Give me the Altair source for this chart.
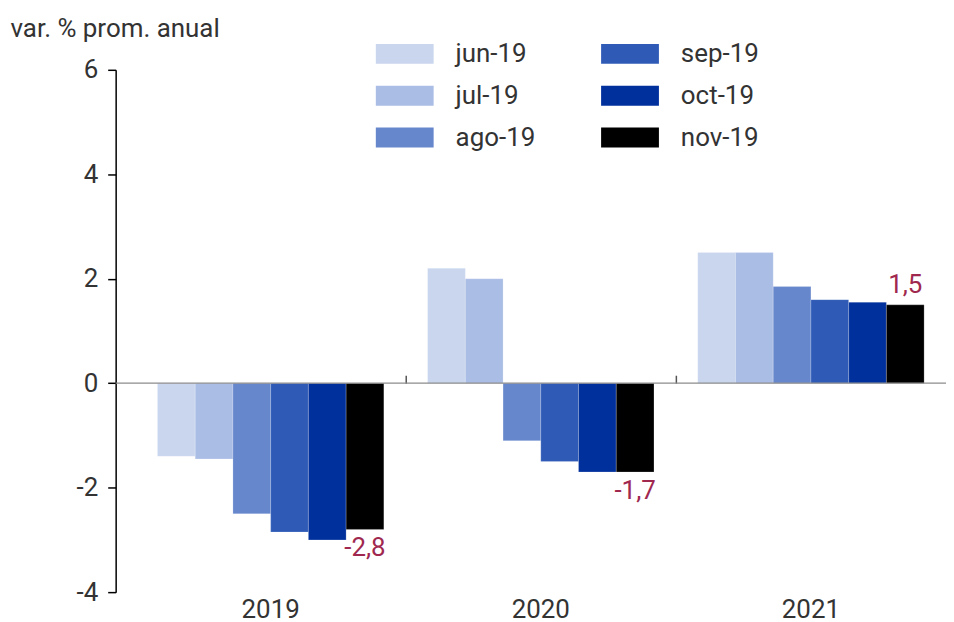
import altair as alt
import pandas as pd

years = ["2019", "2020", "2021"]
series = ["jun-19", "jul-19", "ago-19", "sep-19", "oct-19", "nov-19"]
colors = ["#c9d6ee", "#aabde5", "#6687cc", "#2f5bb7", "#00309c", "#000000"]
values = {
    "jun-19": [-1.4, 2.2, 2.5],
    "jul-19": [-1.45, 2.0, 2.5],
    "ago-19": [-2.5, -1.1, 1.85],
    "sep-19": [-2.85, -1.5, 1.6],
    "oct-19": [-3.0, -1.7, 1.55],
    "nov-19": [-2.8, -1.7, 1.5],
}
labels = {"nov-19": ["-2,8", "-1,7", "1,5"]}

rows = []
for s in series:
    for i, y in enumerate(years):
        lab = labels.get(s, ["", "", ""])[i]
        rows.append({"year": y, "serie": s, "value": values[s][i], "label": lab})
df = pd.DataFrame(rows)

FONT = "Roboto"
FS = 26
TXT = "#333333"
W, H = 813, 524

xscale = alt.Scale(domain=years, paddingInner=0, paddingOuter=0)
oscale = alt.Scale(domain=series, paddingInner=0, paddingOuter=0.58)
yscale = alt.Scale(domain=[-4, 6], nice=False)

base = alt.Chart(df)

bars = base.mark_bar(stroke="#ffffff", strokeWidth=0.4, strokeOpacity=0.5).encode(
    x=alt.X("year:N", scale=xscale, sort=years,
            axis=alt.Axis(title=None, domain=False, ticks=False, labelFont=FONT,
                          labelFontSize=FS, labelColor=TXT, labelPadding=4, labelAngle=0)),
    xOffset=alt.XOffset("serie:N", sort=series, scale=oscale),
    y=alt.Y("value:Q", scale=yscale,
            axis=alt.Axis(title="var. % prom. anual", values=[-4, -2, 0, 2, 4, 6],
                          grid=False, domainColor="#000000", domainWidth=1.5,
                          tickColor="#000000", tickWidth=1.5, tickSize=8, offset=20,
                          labelFont=FONT, labelFontSize=FS, labelColor=TXT, labelPadding=10,
                          labelExpr="replace(datum.label, '−', '-')",
                          titleFont=FONT, titleFontSize=FS, titleColor=TXT, titleFontWeight="normal",
                          titleAngle=0, titleAlign="left", titleBaseline="alphabetic",
                          titleX=-106, titleY=-33)),
    color=alt.Color("serie:N", sort=series,
                    scale=alt.Scale(domain=series, range=colors),
                    legend=alt.Legend(title=None, orient="none", legendX=241, legendY=-45,
                                      columns=2, direction="vertical", columnPadding=66,
                                      rowPadding=-16, padding=0,
                                      symbolType="M-1,-0.345L1,-0.345L1,0.345L-1,0.345Z",
                                      symbolSize=3364, symbolStrokeWidth=0, symbolOpacity=1,
                                      labelFont=FONT, labelFontSize=FS, labelColor=TXT,
                                      labelOffset=22, labelLimit=200)),
)

zero = alt.Chart(pd.DataFrame({"value": [0]})).mark_rule(
    color="#8c8c8c", strokeWidth=1.2).encode(
    y=alt.Y("value:Q", scale=yscale),
    x=alt.value(-20), x2=alt.value(W),
)

ticks = alt.Chart(pd.DataFrame({"year": years})).mark_point(opacity=0).encode(
    x=alt.X("year:N", scale=xscale, sort=years,
            axis=alt.Axis(orient="top", title=None, labels=False, domain=False,
                          tickBand="extent", tickSize=8, tickColor="#555555",
                          tickOpacity={"condition": {"test": "datum.value == '2019' || datum.value == '2020'",
                                                     "value": 1}, "value": 0},
                          tickWidth=1.5, offset=-(H * 0.6))),
)

neg = base.transform_filter("datum.label != '' && datum.value < 0").mark_text(
    baseline="top", dy=6, font=FONT, fontSize=FS, color="#a0284f").encode(
    x=alt.X("year:N", scale=xscale, sort=years, axis=None),
    xOffset=alt.XOffset("serie:N", sort=series, scale=oscale),
    y=alt.Y("value:Q", scale=yscale),
    text="label:N",
)
pos = base.transform_filter("datum.label != '' && datum.value > 0").mark_text(
    baseline="alphabetic", dy=-12, font=FONT, fontSize=FS, color="#a0284f").encode(
    x=alt.X("year:N", scale=xscale, sort=years, axis=None),
    xOffset=alt.XOffset("serie:N", sort=series, scale=oscale),
    y=alt.Y("value:Q", scale=yscale),
    text="label:N",
)

chart = alt.layer(bars, zero, ticks, neg, pos).resolve_axis(x="independent").properties(
    width=W, height=H,
    background="#ffffff",
    autosize=alt.AutoSizeParams(type="none"),
    padding={"left": 128, "top": 61, "right": 0, "bottom": 40},
).configure_view(stroke=None)

chart.save("out.html", embed_options={"renderer": "svg", "actions": False})
